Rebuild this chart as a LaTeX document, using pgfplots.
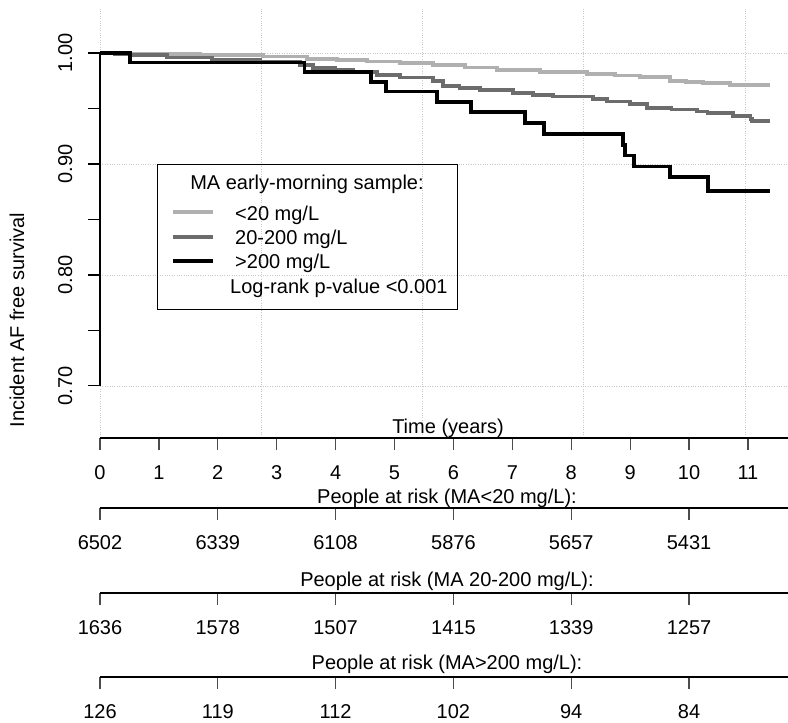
\documentclass[border=0pt]{standalone}
\usepackage{pgfplots}
\pgfplotsset{compat=1.18}
\usepackage{fontspec}
\setmainfont{Liberation Sans}
\definecolor{lightgr}{RGB}{176,176,176}
\definecolor{darkgr}{RGB}{108,108,108}
\definecolor{gridgr}{RGB}{200,200,200}
\newcommand\fs{\fontsize{20bp}{24bp}\selectfont}

\pgfplotsset{
  riskaxis/.style={
    scale only axis, width=688bp, height=1bp,
    xmin=0, xmax=11.68, ymin=0, ymax=1,
    anchor=south west,
    hide y axis, axis x line*=bottom,
    x axis line style={line width=1.1bp, -},
    tick align=outside, major tick length=12bp,
    xtick style={line width=1.2bp, color=black!70},
    xticklabel style={font=\fs, yshift=-12bp},
    /pgf/number format/assume math mode=true,
  }
}

\begin{document}
\begin{tikzpicture}[font=\fs]
\path[use as bounding box] (0,0) rectangle (788bp,-723bp);

% survival curves
\begin{axis}[
    scale only axis, width=688bp, height=429bp,
    at={(100bp,-437bp)}, anchor=south west,
    xmin=0, xmax=11.68, ymin=0.654, ymax=1.0405,
    clip=false,
    axis line style={draw=none},
    xtick={0,2.7379,5.4757,8.2136,10.9514}, xticklabels={},
    xtick style={draw=none},
    ytick={0.7,0.8,0.9,1.0}, minor ytick={0.75,0.85,0.95},
    ytick pos=left, tick align=outside,
    major tick length=12bp, minor tick length=12bp,
    ytick style={line width=1.1bp, black},
    minor tick style={line width=1.1bp, black},
    grid=major, grid style={dotted, gridgr, line width=0.8bp},
    yticklabel style={font=\fs, xshift=-16bp, rotate=90, anchor=base},
    /pgf/number format/.cd, fixed, fixed zerofill, precision=2, assume math mode=true,
  ]
  \draw[line width=1.1bp] (axis cs:0,0.7) -- (axis cs:0,1.0);
  % MA < 20 mg/L
  \addplot[const plot, color=lightgr, line width=3.6bp] coordinates {
    (0,1.000) (0.50,0.9995) (1.02,0.9990) (1.70,0.9980) (2.77,0.9967)
    (3.51,0.9946) (4.02,0.9934) (4.53,0.9922) (5.09,0.9907) (5.65,0.9892)
    (6.20,0.9868) (6.74,0.9847) (7.47,0.9830) (8.27,0.9811) (8.74,0.9796)
    (9.17,0.9781) (9.68,0.9750) (9.95,0.9738) (10.24,0.9727) (10.70,0.9712)
    (11.38,0.9712)
  };
  % MA 20-200 mg/L
  \addplot[const plot, color=darkgr, line width=3.6bp] coordinates {
    (0,1.000) (0.25,0.9990) (0.51,0.9982) (1.14,0.9958) (1.90,0.9940)
    (2.72,0.9916) (3.40,0.9892) (3.62,0.9862) (4.00,0.9845) (4.29,0.9826)
    (4.70,0.9802) (5.09,0.9778) (5.65,0.9748) (5.82,0.9703) (6.10,0.9685)
    (6.45,0.9667) (7.01,0.9637) (7.35,0.9622) (7.69,0.9607) (8.37,0.9583)
    (8.61,0.9561) (9.00,0.9541) (9.29,0.9502) (9.70,0.9490) (10.14,0.9471)
    (10.31,0.9457) (10.75,0.9432) (11.04,0.9403) (11.07,0.9385) (11.38,0.9385)
  };
  % MA > 200 mg/L
  \addplot[const plot, color=black, line width=3.6bp] coordinates {
    (0,1.000) (0.51,0.9913) (3.47,0.9830) (4.60,0.9741) (4.86,0.9651)
    (5.72,0.9559) (6.30,0.9468) (7.22,0.9369) (7.54,0.9270) (8.88,0.9171)
    (8.91,0.9075) (9.07,0.8976) (9.68,0.8883) (10.32,0.8757) (11.38,0.8757)
  };
\end{axis}

\node[rotate=90, anchor=base] at (24bp,-320bp) {Incident AF free survival};

% legend
\draw[line width=1bp] (157bp,-164bp) rectangle (457bp,-309bp);
\node[anchor=base] at (307bp,-189bp) {MA early-morning sample:};
\draw[lightgr, line width=3.6bp] (173bp,-212bp) -- (213bp,-212bp);
\draw[darkgr, line width=3.6bp] (173bp,-237bp) -- (213bp,-237bp);
\draw[black, line width=3.6bp] (173bp,-261bp) -- (213bp,-261bp);
\node[anchor=base west, inner sep=0pt] at (235bp,-220bp) {<20 mg/L};
\node[anchor=base west, inner sep=0pt] at (235bp,-244bp) {20-200 mg/L};
\node[anchor=base west, inner sep=0pt] at (235bp,-268bp) {>200 mg/L};
\node[anchor=base west, inner sep=0pt] at (230bp,-293bp) {Log-rank p-value <0.001};

% time axis
\begin{axis}[riskaxis, at={(100bp,-438bp)}, xtick={0,1,...,11}]
  \addplot[draw=none] coordinates {(0,0)};
\end{axis}
\node[anchor=base] at (448bp,-433bp) {Time (years)};

% people at risk
\node[anchor=base] at (447bp,-503bp) {People at risk (MA<20 mg/L):};
\begin{axis}[riskaxis, at={(100bp,-508bp)}, xtick={0,2,4,6,8,10},
    xticklabels={6502,6339,6108,5876,5657,5431}]
  \addplot[draw=none] coordinates {(0,0)};
\end{axis}

\node[anchor=base] at (447bp,-586bp) {People at risk (MA 20-200 mg/L):};
\begin{axis}[riskaxis, at={(100bp,-593bp)}, xtick={0,2,4,6,8,10},
    xticklabels={1636,1578,1507,1415,1339,1257}]
  \addplot[draw=none] coordinates {(0,0)};
\end{axis}

\node[anchor=base] at (447bp,-669bp) {People at risk (MA>200 mg/L):};
\begin{axis}[riskaxis, at={(100bp,-677bp)}, xtick={0,2,4,6,8,10},
    xticklabels={126,119,112,102,94,84}]
  \addplot[draw=none] coordinates {(0,0)};
\end{axis}
\end{tikzpicture}
\end{document}
